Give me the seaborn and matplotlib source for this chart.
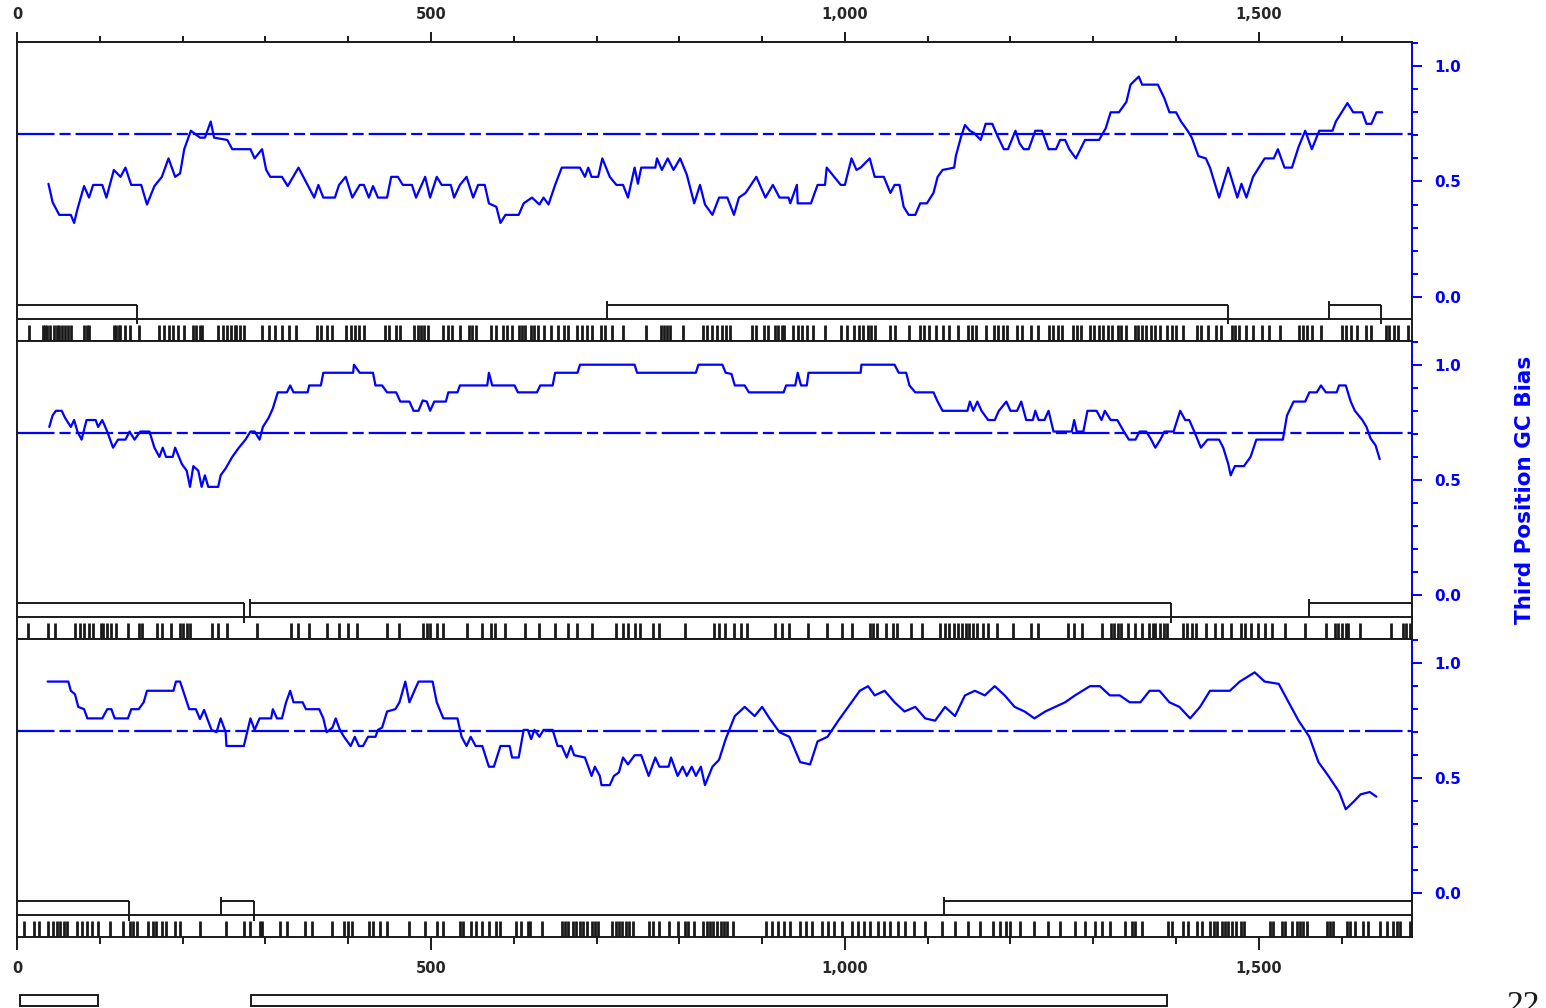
import numpy as np
import pandas as pd
import seaborn as sns
import matplotlib
matplotlib.use('Agg')
import matplotlib.pyplot as plt
from matplotlib.patches import Rectangle
from matplotlib.ticker import FixedLocator, MultipleLocator, FuncFormatter

# ---- datos: sesgo GC en tercera posicion, un marco de lectura por panel ----
pos_f1 = [38, 43, 51, 65, 69, 73, 81, 87, 92, 103, 108, 117, 125, 131, 138, 150, 157, 166, 175, 183,
          191, 197, 202, 210, 221, 227, 234, 238, 254, 260, 282, 287, 296, 301, 306, 320, 327, 340, 351, 359,
          364, 370, 384, 389, 397, 405, 414, 419, 425, 430, 436, 447, 452, 460, 466, 477, 482, 493, 499, 507,
          513, 524, 528, 535, 543, 551, 557, 565, 570, 579, 584, 590, 606, 612, 622, 631, 636, 642, 650, 658,
          680, 686, 690, 694, 702, 707, 716, 724, 732, 738, 746, 750, 754, 771, 773, 779, 786, 793, 801, 809,
          818, 825, 831, 840, 848, 858, 866, 872, 880, 893, 904, 913, 921, 932, 934, 942, 943, 959, 967, 976,
          978, 987, 995, 1000, 1008, 1014, 1019, 1030, 1036, 1047, 1055, 1060, 1066, 1071, 1077, 1085, 1091, 1099, 1107, 1112,
          1118, 1132, 1134, 1140, 1145, 1151, 1156, 1164, 1170, 1178, 1184, 1192, 1197, 1206, 1211, 1216, 1222, 1230, 1238, 1246,
          1255, 1260, 1266, 1271, 1279, 1290, 1307, 1315, 1321, 1331, 1340, 1345, 1355, 1359, 1378, 1386, 1392, 1400, 1406, 1414,
          1419, 1427, 1436, 1441, 1452, 1463, 1474, 1479, 1485, 1493, 1507, 1518, 1523, 1531, 1540, 1548, 1556, 1564, 1573, 1589,
          1593, 1600, 1607, 1614, 1625, 1630, 1636, 1642, 1649]
gc_f1 = [0.49, 0.41, 0.355, 0.355, 0.32, 0.38, 0.48, 0.43, 0.485, 0.485, 0.43, 0.55, 0.52, 0.56, 0.485, 0.485, 0.40, 0.48, 0.52, 0.60,
         0.52, 0.535, 0.64, 0.72, 0.69, 0.69, 0.76, 0.69, 0.68, 0.64, 0.64, 0.60, 0.64, 0.55, 0.52, 0.52, 0.48, 0.56, 0.485, 0.43,
         0.485, 0.43, 0.43, 0.485, 0.52, 0.43, 0.485, 0.485, 0.43, 0.48, 0.43, 0.43, 0.52, 0.52, 0.485, 0.485, 0.43, 0.52, 0.43, 0.52,
         0.485, 0.485, 0.43, 0.485, 0.52, 0.43, 0.485, 0.485, 0.405, 0.39, 0.32, 0.355, 0.355, 0.405, 0.43, 0.40, 0.43, 0.40, 0.485, 0.56,
         0.56, 0.52, 0.56, 0.52, 0.52, 0.60, 0.52, 0.485, 0.485, 0.43, 0.56, 0.49, 0.56, 0.56, 0.60, 0.55, 0.60, 0.55, 0.60, 0.53,
         0.405, 0.485, 0.40, 0.355, 0.43, 0.43, 0.355, 0.43, 0.45, 0.52, 0.43, 0.485, 0.43, 0.43, 0.405, 0.485, 0.405, 0.405, 0.485, 0.485,
         0.56, 0.52, 0.485, 0.485, 0.60, 0.55, 0.56, 0.60, 0.52, 0.52, 0.45, 0.485, 0.485, 0.39, 0.355, 0.355, 0.405, 0.405, 0.45, 0.52,
         0.55, 0.56, 0.61, 0.69, 0.745, 0.72, 0.71, 0.68, 0.75, 0.75, 0.70, 0.64, 0.64, 0.72, 0.665, 0.64, 0.64, 0.72, 0.72, 0.64,
         0.64, 0.68, 0.68, 0.64, 0.60, 0.68, 0.68, 0.73, 0.80, 0.80, 0.845, 0.92, 0.955, 0.92, 0.92, 0.86, 0.80, 0.80, 0.76, 0.72,
         0.69, 0.61, 0.60, 0.56, 0.43, 0.56, 0.43, 0.49, 0.43, 0.52, 0.60, 0.60, 0.64, 0.56, 0.56, 0.65, 0.72, 0.64, 0.72, 0.72,
         0.76, 0.80, 0.84, 0.80, 0.80, 0.75, 0.75, 0.80, 0.80]

pos_f2 = [39, 43, 47, 54, 58, 65, 69, 73, 78, 84, 95, 98, 103, 109, 116, 122, 131, 136, 142, 149,
          160, 166, 172, 176, 180, 188, 191, 199, 205, 209, 213, 219, 223, 227, 231, 243, 246, 252, 260, 268,
          276, 282, 287, 293, 297, 304, 309, 315, 326, 330, 334, 351, 353, 367, 370, 406, 407, 414, 430, 433,
          441, 447, 458, 463, 474, 479, 485, 490, 495, 499, 504, 518, 521, 532, 535, 568, 570, 574, 601, 605,
          628, 632, 647, 650, 677, 680, 746, 749, 820, 823, 852, 856, 863, 867, 879, 884, 926, 929, 940, 943,
          947, 954, 956, 1019, 1020, 1060, 1065, 1074, 1078, 1085, 1107, 1112, 1118, 1148, 1151, 1155, 1160, 1165, 1173, 1181,
          1186, 1195, 1200, 1208, 1213, 1219, 1227, 1230, 1234, 1241, 1246, 1252, 1274, 1277, 1280, 1288, 1293, 1304, 1310, 1314,
          1321, 1329, 1337, 1343, 1351, 1356, 1364, 1370, 1375, 1381, 1386, 1397, 1405, 1411, 1416, 1422, 1430, 1438, 1452, 1457,
          1463, 1466, 1471, 1482, 1490, 1497, 1504, 1529, 1534, 1542, 1556, 1561, 1570, 1575, 1581, 1594, 1597, 1605, 1611, 1616,
          1625, 1630, 1635, 1641, 1646]
gc_f2 = [0.73, 0.78, 0.80, 0.80, 0.77, 0.73, 0.76, 0.71, 0.675, 0.76, 0.76, 0.73, 0.76, 0.71, 0.64, 0.675, 0.675, 0.71, 0.675, 0.71,
         0.71, 0.64, 0.60, 0.64, 0.60, 0.60, 0.64, 0.57, 0.54, 0.47, 0.56, 0.54, 0.47, 0.52, 0.47, 0.47, 0.52, 0.55, 0.60, 0.64,
         0.675, 0.71, 0.71, 0.675, 0.73, 0.77, 0.81, 0.88, 0.88, 0.91, 0.88, 0.88, 0.91, 0.91, 0.965, 0.965, 1.0, 0.965, 0.965, 0.91,
         0.91, 0.88, 0.88, 0.84, 0.84, 0.80, 0.80, 0.845, 0.84, 0.80, 0.84, 0.84, 0.88, 0.88, 0.91, 0.91, 0.965, 0.91, 0.91, 0.88,
         0.88, 0.91, 0.91, 0.965, 0.965, 1.0, 1.0, 0.965, 0.965, 1.0, 1.0, 0.965, 0.96, 0.91, 0.91, 0.88, 0.88, 0.91, 0.91, 0.965,
         0.91, 0.91, 0.965, 0.965, 1.0, 1.0, 0.965, 0.965, 0.91, 0.88, 0.88, 0.84, 0.80, 0.80, 0.84, 0.80, 0.84, 0.80, 0.76, 0.76,
         0.80, 0.84, 0.80, 0.80, 0.84, 0.76, 0.76, 0.80, 0.76, 0.76, 0.80, 0.71, 0.71, 0.76, 0.71, 0.71, 0.80, 0.80, 0.76, 0.80,
         0.76, 0.76, 0.71, 0.675, 0.675, 0.71, 0.71, 0.675, 0.64, 0.675, 0.71, 0.71, 0.80, 0.76, 0.76, 0.71, 0.64, 0.675, 0.675, 0.64,
         0.57, 0.52, 0.56, 0.56, 0.60, 0.675, 0.675, 0.675, 0.78, 0.84, 0.84, 0.88, 0.88, 0.91, 0.88, 0.88, 0.91, 0.91, 0.84, 0.80,
         0.76, 0.73, 0.68, 0.65, 0.59]

pos_f3 = [37, 62, 65, 70, 74, 81, 85, 103, 109, 114, 118, 134, 138, 147, 153, 157, 189, 192, 197, 202,
          208, 216, 221, 226, 230, 235, 241, 246, 252, 253, 274, 278, 282, 287, 293, 307, 309, 314, 320, 325,
          330, 334, 345, 349, 365, 370, 374, 381, 385, 390, 395, 403, 408, 413, 418, 424, 433, 436, 441, 447,
          457, 462, 469, 474, 480, 485, 502, 507, 515, 532, 537, 543, 548, 554, 562, 570, 576, 584, 595, 598,
          606, 612, 617, 621, 625, 631, 636, 647, 653, 658, 664, 669, 673, 686, 691, 694, 698, 704, 706, 716,
          721, 727, 732, 738, 746, 754, 763, 771, 776, 787, 790, 798, 804, 809, 815, 820, 826, 831, 840, 848,
          856, 867, 879, 891, 900, 909, 921, 933, 946, 958, 967, 979, 992, 1004, 1018, 1028, 1036, 1048, 1060, 1072,
          1085, 1097, 1109, 1121, 1133, 1145, 1157, 1169, 1181, 1193, 1205, 1217, 1229, 1242, 1254, 1266, 1278, 1296, 1308, 1320,
          1332, 1344, 1357, 1368, 1380, 1392, 1404, 1417, 1429, 1441, 1465, 1477, 1495, 1507, 1524, 1536, 1548, 1561, 1572, 1584,
          1597, 1605, 1615, 1623, 1634, 1642]
gc_f3 = [0.92, 0.92, 0.88, 0.865, 0.81, 0.80, 0.76, 0.76, 0.80, 0.80, 0.76, 0.76, 0.80, 0.80, 0.83, 0.88, 0.88, 0.92, 0.92, 0.865,
         0.80, 0.80, 0.757, 0.797, 0.757, 0.71, 0.70, 0.76, 0.70, 0.64, 0.64, 0.70, 0.76, 0.71, 0.76, 0.76, 0.80, 0.76, 0.76, 0.83,
         0.88, 0.83, 0.83, 0.80, 0.80, 0.76, 0.70, 0.72, 0.76, 0.71, 0.68, 0.64, 0.68, 0.64, 0.64, 0.68, 0.68, 0.71, 0.72, 0.79,
         0.80, 0.83, 0.92, 0.83, 0.88, 0.92, 0.92, 0.83, 0.76, 0.76, 0.68, 0.64, 0.68, 0.64, 0.64, 0.55, 0.55, 0.64, 0.64, 0.59,
         0.59, 0.71, 0.71, 0.67, 0.71, 0.68, 0.71, 0.71, 0.64, 0.64, 0.59, 0.64, 0.60, 0.59, 0.54, 0.51, 0.55, 0.51, 0.47, 0.47,
         0.51, 0.525, 0.59, 0.56, 0.60, 0.60, 0.51, 0.59, 0.55, 0.55, 0.59, 0.51, 0.55, 0.51, 0.55, 0.51, 0.55, 0.47, 0.55, 0.58,
         0.67, 0.77, 0.81, 0.77, 0.81, 0.76, 0.70, 0.68, 0.57, 0.56, 0.66, 0.68, 0.75, 0.81, 0.88, 0.90, 0.86, 0.88, 0.83, 0.79,
         0.81, 0.76, 0.75, 0.81, 0.77, 0.86, 0.88, 0.86, 0.90, 0.86, 0.81, 0.79, 0.76, 0.79, 0.81, 0.83, 0.86, 0.90, 0.90, 0.86,
         0.86, 0.83, 0.83, 0.88, 0.88, 0.83, 0.81, 0.76, 0.81, 0.88, 0.88, 0.92, 0.96, 0.92, 0.91, 0.83, 0.75, 0.68, 0.57, 0.51,
         0.44, 0.365, 0.40, 0.43, 0.44, 0.42]

# marcos abiertos de lectura (inicio, fin) por panel
orf_f1 = [(0, 145), (713, 1463), (1585, 1647)]
orf_f2 = [(0, 274), (282, 1394), (1561, 1685)]
orf_f3 = [(0, 135), (247, 286), (1120, 1685)]
orf_resumen = [(4, 98), (283, 1389)]

# codones de parada
stop_f1 = [15, 32, 34, 36, 40, 45, 48, 51, 54, 58, 61, 65, 81, 84, 87, 117, 120, 123, 125, 131,
           136, 147, 172, 177, 183, 188, 194, 202, 213, 216, 221, 224, 243, 249, 254, 259, 263, 265, 269, 274,
           296, 304, 312, 320, 329, 337, 362, 367, 375, 381, 397, 403, 408, 413, 419, 444, 449, 458, 463, 480,
           484, 488, 492, 496, 515, 521, 526, 535, 546, 550, 554, 573, 579, 587, 592, 598, 606, 610, 614, 621,
           625, 629, 636, 645, 653, 661, 666, 677, 682, 688, 694, 705, 710, 719, 732, 760, 778, 781, 785, 789,
           804, 829, 834, 840, 845, 851, 856, 861, 888, 893, 902, 907, 915, 919, 924, 927, 937, 943, 948, 954,
           962, 976, 995, 1003, 1011, 1017, 1022, 1028, 1032, 1036, 1055, 1060, 1077, 1091, 1096, 1102, 1110, 1118, 1126, 1137,
           1149, 1154, 1158, 1170, 1180, 1185, 1191, 1196, 1208, 1214, 1225, 1233, 1246, 1251, 1257, 1262, 1275, 1280, 1285, 1296,
           1301, 1307, 1312, 1318, 1323, 1330, 1334, 1340, 1350, 1354, 1359, 1364, 1370, 1375, 1381, 1389, 1395, 1400, 1408, 1425,
           1430, 1438, 1448, 1454, 1467, 1471, 1476, 1485, 1493, 1504, 1512, 1526, 1549, 1553, 1558, 1564, 1575, 1600, 1605, 1611,
           1619, 1630, 1635, 1653, 1657, 1663, 1668, 1680]
stop_f2 = [13, 37, 46, 70, 76, 81, 87, 92, 101, 104, 109, 114, 120, 134, 147, 151, 169, 175, 186, 197,
           201, 205, 209, 235, 243, 254, 290, 331, 340, 353, 375, 389, 400, 411, 447, 462, 491, 495, 499, 507,
           515, 543, 562, 573, 577, 590, 614, 631, 650, 666, 677, 694, 724, 732, 738, 746, 752, 768, 775, 807,
           842, 848, 855, 866, 874, 882, 915, 924, 932, 956, 978, 997, 1008, 1030, 1034, 1039, 1050, 1058, 1063, 1080,
           1093, 1115, 1121, 1126, 1132, 1137, 1142, 1146, 1150, 1155, 1159, 1167, 1173, 1184, 1203, 1225, 1233, 1269, 1277, 1286,
           1310, 1321, 1325, 1330, 1334, 1342, 1351, 1359, 1367, 1372, 1375, 1381, 1385, 1389, 1408, 1413, 1419, 1424, 1436, 1447,
           1455, 1466, 1479, 1483, 1490, 1499, 1507, 1516, 1531, 1556, 1581, 1592, 1596, 1601, 1605, 1608, 1622, 1660, 1674, 1678,
           1682]
stop_f3 = [8, 21, 26, 37, 43, 48, 52, 57, 60, 73, 79, 84, 91, 98, 112, 128, 136, 140, 145, 158,
           164, 168, 175, 180, 191, 197, 221, 253, 274, 282, 293, 296, 318, 326, 348, 356, 380, 395, 400, 405,
           425, 430, 438, 447, 474, 493, 507, 515, 535, 539, 548, 554, 562, 570, 579, 584, 603, 609, 617, 620,
           634, 658, 662, 666, 671, 675, 680, 684, 688, 694, 698, 702, 719, 723, 727, 731, 736, 739, 744, 763,
           768, 776, 787, 798, 807, 810, 818, 829, 833, 837, 841, 846, 850, 854, 857, 865, 905, 912, 919, 926,
           934, 946, 953, 960, 972, 979, 987, 996, 1008, 1016, 1023, 1030, 1040, 1047, 1054, 1064, 1072, 1084, 1097, 1117,
           1133, 1149, 1163, 1179, 1187, 1194, 1199, 1211, 1229, 1245, 1260, 1278, 1290, 1302, 1310, 1320, 1338, 1347, 1350, 1359,
           1390, 1395, 1408, 1414, 1425, 1431, 1441, 1446, 1450, 1455, 1459, 1463, 1467, 1473, 1479, 1482, 1513, 1517, 1528, 1531,
           1540, 1546, 1550, 1553, 1558, 1582, 1586, 1589, 1606, 1610, 1616, 1626, 1632, 1646, 1655, 1662, 1667, 1670, 1682]

ticks_pos = [0, 500, 1000, 1500]
gc_ticks = [0.0, 0.5, 1.0]
ref_gc = 0.705

# ---- estilo ----
sns.set_theme(style="white")
plt.rcParams['font.family'] = ['DejaVu Sans']
plt.rcParams['lines.scale_dashes'] = False

AZUL = '#0000ff'
XMAX = 1685
YMIN, YMAX = -0.19, 1.105
W, H = 1546, 1008
LW = 1.4

fig = plt.figure(figsize=(W / 100, H / 100), dpi=100)
fig.patch.set_facecolor('white')


def ejes_px(x0, y0, x1, y1):
    return fig.add_axes([x0 / W, 1 - y1 / H, (x1 - x0) / W, (y1 - y0) / H])


marcos = [(pos_f1, gc_f1, orf_f1, stop_f1),
          (pos_f2, gc_f2, orf_f2, stop_f2),
          (pos_f3, gc_f3, orf_f3, stop_f3)]
tops = [42, 340.5, 639, 937]

for i, (pos, gc, orfs, stops) in enumerate(marcos):
    ax = ejes_px(17, tops[i], 1412, tops[i + 1])
    ax.set_facecolor('white')
    df = pd.DataFrame({'pos': pos, 'gc': gc})
    sns.lineplot(data=df, x='pos', y='gc', ax=ax, color=AZUL, lw=1.6,
                 sort=False, estimator=None, legend=False)
    ax.axhline(ref_gc, color=AZUL, lw=1.6, dashes=(27, 3.6, 8, 3.6))

    # pista de ORFs
    ax.hlines(-0.095, 0, XMAX, color='k', lw=LW)
    for s, e in orfs:
        ax.hlines(-0.035, s, e, color='k', lw=LW)
        if s > 0:
            ax.vlines(s, -0.095, -0.018, color='k', lw=LW)
        if e < XMAX:
            ax.vlines(e, -0.035, -0.12, color='k', lw=LW)
    ax.vlines(stops, -0.122, YMIN, color='k', lw=2.0)

    ax.set_xlim(0, XMAX)
    ax.set_ylim(YMIN, YMAX)
    ax.set_xlabel('')
    ax.set_ylabel('')
    ax.grid(False)

    # eje derecho azul
    ax.yaxis.tick_right()
    ax.yaxis.set_major_locator(FixedLocator(gc_ticks))
    ax.yaxis.set_minor_locator(FixedLocator([0.1, 0.2, 0.3, 0.4, 0.6, 0.7, 0.8, 0.9, 1.1]))
    ax.yaxis.set_major_formatter(FuncFormatter(lambda v, p: f'{v:.1f}'))
    ax.tick_params(axis='y', which='major', direction='out', length=7, width=LW,
                   color=AZUL, labelcolor=AZUL, labelsize=11, pad=9, right=True, left=False)
    ax.tick_params(axis='y', which='minor', direction='out', length=4.5, width=LW,
                   color=AZUL, right=True, left=False)
    for lab in ax.get_yticklabels():
        lab.set_fontweight('bold')

    for sp in ax.spines.values():
        sp.set_color('k')
        sp.set_linewidth(LW)
    ax.spines['right'].set_color(AZUL)
    ax.spines['right'].set_bounds(0, YMAX)
    ax.plot([XMAX, XMAX], [YMIN, 0], color='k', lw=LW, clip_on=False)

    # eje x arriba / abajo
    ax.xaxis.set_major_locator(FixedLocator(ticks_pos))
    ax.xaxis.set_minor_locator(MultipleLocator(100))
    ax.xaxis.set_major_formatter(FuncFormatter(lambda v, p: f'{int(v):,}'))
    if i == 0:
        ax.xaxis.tick_top()
        ax.tick_params(axis='x', which='major', direction='out', length=7.5, width=LW,
                       color='k', labelsize=10.5, pad=7, top=True, bottom=False)
        ax.tick_params(axis='x', which='minor', direction='out', length=4, width=LW,
                       color='k', top=True, bottom=False)
    elif i == 2:
        ax.tick_params(axis='x', which='major', direction='out', length=9, width=LW,
                       color='k', labelsize=10.5, pad=8, bottom=True, top=False)
        ax.tick_params(axis='x', which='minor', direction='out', length=5, width=LW,
                       color='k', bottom=True, top=False)
    else:
        ax.tick_params(axis='x', which='both', bottom=False, top=False,
                       labelbottom=False, labeltop=False)
    for lab in ax.get_xticklabels():
        lab.set_fontweight('bold')

fig.text(1525 / W, 1 - 490 / H, 'Third Position GC Bias', rotation=90, color=AZUL,
         fontweight='bold', fontsize=15.5, ha='center', va='center')

# resumen de ORFs al pie (cortado por el borde, como en el original)
ax_b = ejes_px(17, 990, 1412, 1008)
ax_b.set_xlim(0, XMAX)
ax_b.set_ylim(18, 0)
ax_b.axis('off')
for s, e in orf_resumen:
    ax_b.add_patch(Rectangle((s, 5), e - s, 11, facecolor='white', edgecolor='k',
                             lw=LW, clip_on=False))

fig.text(1507 / W, 1 - 991 / H, '22', fontsize=24, family=['Liberation Serif', 'DejaVu Serif'],
         ha='left', va='top', color='k')

fig.savefig('out.png', dpi=100, facecolor='white')
